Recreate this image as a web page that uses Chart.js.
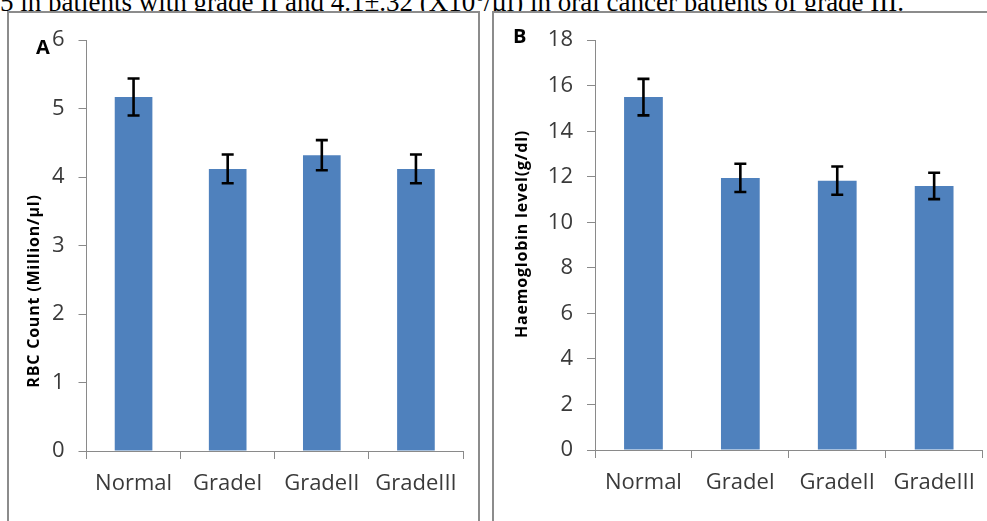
<!DOCTYPE html>
<html>
<head>
<meta charset="utf-8">
<script src="https://cdn.jsdelivr.net/npm/chart.js@4.4.1/dist/chart.umd.min.js"></script>
<style>
  body { margin: 0; width: 987px; height: 521px; overflow: hidden; background: #fff; position: relative; }
  .caption { position: absolute; left: 0; top: -18px; font: 27px "Liberation Serif", serif; line-height: 27px; white-space: nowrap; color: #000; }
  .panel { position: absolute; top: 11px; height: 530px; border: 2px solid #8c8c8c; box-sizing: border-box; background: #fff; }
  .tag { position: absolute; font-family: "Open Sans", sans-serif; font-weight: bold; font-size: 20px; line-height: 20px; color: #000; }
  canvas { position: absolute; }
</style>
</head>
<body>
<div class="caption">5 in patients with grade II and 4.1±.32 (X10<sup style="font-size:17px">6</sup>/µl) in oral cancer patients of grade III.</div>
<div class="panel" style="left:7px; width:473px;"></div>
<div class="panel" style="left:492px; width:510px;"></div>
<canvas id="chartA" width="468" height="508" style="left:9px; top:13px;"></canvas>
<canvas id="chartB" width="493" height="508" style="left:494px; top:13px;"></canvas>
<div class="tag" style="left:36px; top:37px;">A</div>
<div class="tag" style="left:513px; top:26px;">B</div>
<script>
// data
var categories = ['Normal', 'GradeI', 'GradeII', 'GradeIII'];
var rbcMeans = [5.17, 4.12, 4.32, 4.12];
var rbcErrors = [0.27, 0.21, 0.22, 0.21];
var hbMeans = [15.5, 11.95, 11.83, 11.6];
var hbErrors = [0.8, 0.62, 0.62, 0.58];
var rbcMax = 6, rbcStep = 1;
var hbMax = 18, hbStep = 2;

var axisGray = '#8a8a8a';
var labelColor = '#3a3a3a';

// draws the +/- bars on top of each bar
var errorBars = {
  id: 'errorBars',
  afterDatasetsDraw: function (chart, args, opts) {
    var ctx = chart.ctx;
    var y = chart.scales.y;
    var meta = chart.getDatasetMeta(0);
    var means = chart.data.datasets[0].data;
    ctx.save();
    ctx.strokeStyle = '#000';
    ctx.lineWidth = 2.6;
    meta.data.forEach(function (bar, i) {
      var top = y.getPixelForValue(means[i] + opts.errors[i]);
      var bot = y.getPixelForValue(means[i] - opts.errors[i]);
      ctx.beginPath();
      ctx.moveTo(bar.x, top); ctx.lineTo(bar.x, bot);
      ctx.moveTo(bar.x - 6, top); ctx.lineTo(bar.x + 6, top);
      ctx.moveTo(bar.x - 6, bot); ctx.lineTo(bar.x + 6, bot);
      ctx.stroke();
    });
    ctx.restore();
  }
};

// y title placed like in the original (not always centred on the axis)
var sideTitle = {
  id: 'sideTitle',
  afterDraw: function (chart, args, opts) {
    var ctx = chart.ctx;
    ctx.save();
    ctx.translate(opts.x, opts.y);
    ctx.rotate(-Math.PI / 2);
    ctx.font = 'bold 16px "Open Sans", sans-serif';
    ctx.letterSpacing = '0.8px';
    ctx.fillStyle = '#000';
    ctx.textAlign = 'center';
    ctx.textBaseline = 'middle';
    ctx.fillText(opts.text, 0, 0);
    ctx.restore();
  }
};

function makeChart(id, means, errors, max, step, title, yWidth, xHeight, pad) {
  return new Chart(document.getElementById(id), {
    type: 'bar',
    data: {
      labels: categories,
      datasets: [{
        data: means,
        backgroundColor: '#4f81bd',
        barPercentage: 0.4,
        categoryPercentage: 1.0
      }]
    },
    options: {
      responsive: false,
      animation: false,
      layout: { padding: pad },
      plugins: {
        legend: { display: false },
        tooltip: { enabled: false },
        errorBars: { errors: errors },
        sideTitle: title
      },
      scales: {
        x: {
          grid: { drawOnChartArea: false, tickLength: 8, color: axisGray },
          border: { color: axisGray, width: 1 },
          ticks: { color: labelColor, font: { family: 'Open Sans', size: 22 }, padding: 12 },
          afterFit: function (s) { s.height = xHeight; }
        },
        y: {
          min: 0, max: max,
          grid: { drawOnChartArea: false, tickLength: 8, color: axisGray },
          border: { color: axisGray, width: 1 },
          ticks: { stepSize: step, color: labelColor, font: { family: 'Open Sans', size: 22 }, padding: 14 },
          afterFit: function (s) { s.width = yWidth; }
        }
      }
    },
    plugins: [errorBars, sideTitle]
  });
}

makeChart('chartA', rbcMeans, rbcErrors, rbcMax, rbcStep,
  { text: 'RBC Count (Million/µl)', x: 25, y: 278 }, 77.5, 70, { top: 25, right: 14 });
makeChart('chartB', hbMeans, hbErrors, hbMax, hbStep,
  { text: 'Haemoglobin level(g/dl)', x: 28, y: 221 }, 101, 71, { top: 25, right: 1 });
</script>
</body>
</html>
